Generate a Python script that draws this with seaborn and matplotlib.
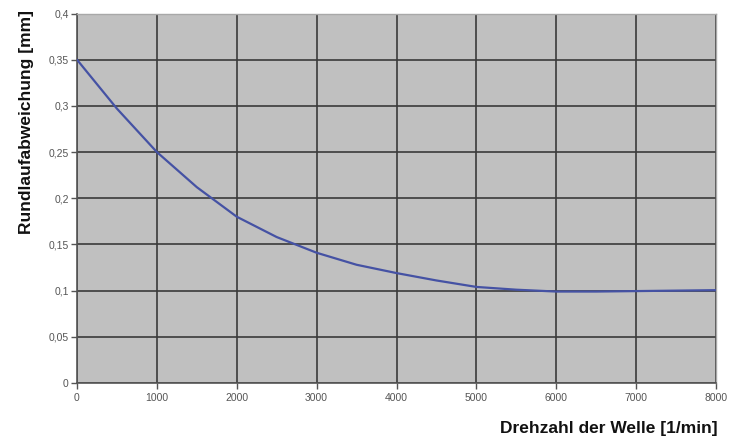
import matplotlib
matplotlib.use("Agg")
import matplotlib.pyplot as plt
from matplotlib.ticker import FuncFormatter
import seaborn as sns
import pandas as pd

# Drehzahl [1/min] und Rundlaufabweichung [mm]
drehzahl = [0, 500, 1000, 1500, 2000, 2500, 3000, 3500, 4000, 4500,
            5000, 5500, 6000, 6500, 7000, 7500, 8000]
abweichung = [0.35, 0.297, 0.25, 0.212, 0.18, 0.158, 0.141, 0.128, 0.119,
              0.111, 0.104, 0.101, 0.099, 0.099, 0.0995, 0.1, 0.1005]
x_ticks = [0, 1000, 2000, 3000, 4000, 5000, 6000, 7000, 8000]
y_ticks = [0, 0.05, 0.1, 0.15, 0.2, 0.25, 0.3, 0.35, 0.4]

df = pd.DataFrame({"Drehzahl": drehzahl, "Abweichung": abweichung})

sns.set_style("white")
plt.rcParams["font.family"] = ["Liberation Sans", "DejaVu Sans"]

fig = plt.figure(figsize=(7.4, 4.38), dpi=100)
ax = fig.add_axes([77 / 740, 1 - 383 / 438, 639 / 740, 369.5 / 438])
ax.set_facecolor("#c0c0c0")

sns.lineplot(data=df, x="Drehzahl", y="Abweichung", ax=ax,
             color="#4552a4", linewidth=1.6, zorder=3)

ax.set_xlim(0, 8000)
ax.set_ylim(0, 0.4)
ax.set_xticks(x_ticks)
ax.set_yticks(y_ticks)
ax.yaxis.set_major_formatter(FuncFormatter(lambda v, p: f"{v:g}".replace(".", ",")))
ax.grid(True, color="#3a3a3a", linewidth=1.2, zorder=1)
ax.set_axisbelow(True)

ax.tick_params(axis="both", bottom=True, left=True, labelsize=7.5,
               labelcolor="#555555", colors="#555555",
               length=4, width=1, direction="out")
ax.tick_params(axis="x", pad=3)
ax.tick_params(axis="y", pad=2)

for side in ["left", "bottom"]:
    ax.spines[side].set_color("#555555")
    ax.spines[side].set_linewidth(1.2)
for side in ["top", "right"]:
    ax.spines[side].set_color("#a8a8a8")
    ax.spines[side].set_linewidth(1)

ax.set_xlabel("Drehzahl der Welle [1/min]", fontsize=12.5, fontweight="bold",
              color="#111111", ha="right", va="top")
ax.xaxis.set_label_coords(1.002, -0.103)
ax.set_ylabel("Rundlaufabweichung [mm]", fontsize=12.5, fontweight="bold",
              color="#111111")
ax.yaxis.set_label_coords(-0.068, 0.706)

fig.savefig("out.png", dpi=100)
